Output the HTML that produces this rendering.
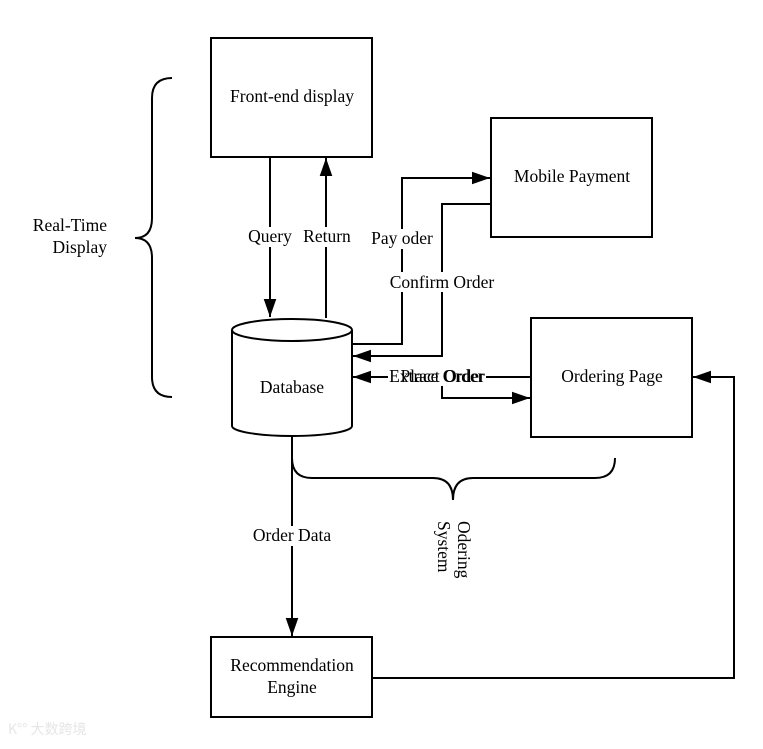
<!DOCTYPE html>
<html><head><meta charset="utf-8"><style>
html,body{margin:0;padding:0;background:#fff;}
svg text{font-family:"Liberation Serif",serif;font-size:17.5px;fill:#000;}
</style></head><body>
<svg width="763" height="744" viewBox="0 0 763 744" xmlns="http://www.w3.org/2000/svg">
<defs><marker id="a" viewBox="0 0 10 10" refX="10" refY="5" markerWidth="9" markerHeight="9" markerUnits="strokeWidth" orient="auto"><path d="M0,1.5 L10,5 L0,8.5z" fill="#000"/></marker></defs>
<g fill="none" stroke="#000" stroke-width="2">
<rect x="211" y="38" width="161" height="119" fill="#fff"/>
<rect x="491" y="118" width="161" height="119" fill="#fff"/>
<rect x="531" y="318" width="161" height="119" fill="#fff"/>
<rect x="211" y="637" width="161" height="80" fill="#fff"/>
<path d="M232,330 L232,426 A60,10 0 0 0 352,426 L352,330" fill="#fff"/>
<ellipse cx="292" cy="330" rx="60" ry="11" fill="#fff"/>
<path d="M270,157 L270,317" marker-end="url(#a)"/>
<path d="M326,318 L326,158" marker-end="url(#a)"/>
<path d="M352,344 L402,344 L402,178 L490,178" marker-end="url(#a)"/>
<path d="M491,204 L442,204 L442,356 L353,356" marker-end="url(#a)"/>
<path d="M531,377 L353,377" marker-end="url(#a)"/>
<path d="M442,385 L442,398 L530,398" marker-end="url(#a)"/>
<path d="M292,436 L292,636" marker-end="url(#a)"/>
<path d="M372,678 L734,678 L734,377 L693,377" marker-end="url(#a)"/>
<path d="M172,78 Q152,78 152,98 L152,218 Q152,238 135,238 Q152,238 152,258 L152,377 Q152,397 172,397"/>
<path d="M292,458 Q292,478 312,478 L433,478 Q453,478 453,500 Q453,478 473,478 L595,478 Q615,478 615,458"/>
</g>
<g>
<rect x="246" y="227" width="48" height="20" fill="#fff"/>
<rect x="300" y="227" width="54" height="20" fill="#fff"/>
<rect x="368" y="229" width="68" height="20" fill="#fff"/>
<rect x="386" y="272" width="112" height="20" fill="#fff"/>
<rect x="388" y="366" width="98" height="20" fill="#fff"/>
<rect x="249" y="526" width="86" height="20" fill="#fff"/>
</g>
<text x="292" y="102" text-anchor="middle">Front-end display</text>
<text x="572" y="182" text-anchor="middle">Mobile Payment</text>
<text x="612" y="382" text-anchor="middle">Ordering Page</text>
<text x="292" y="671" text-anchor="middle">Recommendation</text>
<text x="292" y="693" text-anchor="middle">Engine</text>
<text x="292" y="393" text-anchor="middle">Database</text>
<text x="270" y="242" text-anchor="middle">Query</text>
<text x="327" y="242" text-anchor="middle">Return</text>
<text x="402" y="244" text-anchor="middle">Pay oder</text>
<text x="442" y="288" text-anchor="middle">Confirm Order</text>
<text x="437" y="382" text-anchor="middle">Extract Order</text>
<text x="442" y="382" text-anchor="middle">Place Order</text>
<text x="292" y="541" text-anchor="middle">Order Data</text>
<text x="107" y="231" text-anchor="end">Real-Time</text>
<text x="107" y="253" text-anchor="end">Display</text>
<text transform="translate(458,521) rotate(90)">Odering</text>
<text transform="translate(438,521) rotate(90)">System</text>
<text x="8" y="734" style="font-family:'Noto Sans CJK SC',sans-serif;font-size:14px;fill:#e6e6e6">K°° 大数跨境</text>
</svg>
</body></html>
